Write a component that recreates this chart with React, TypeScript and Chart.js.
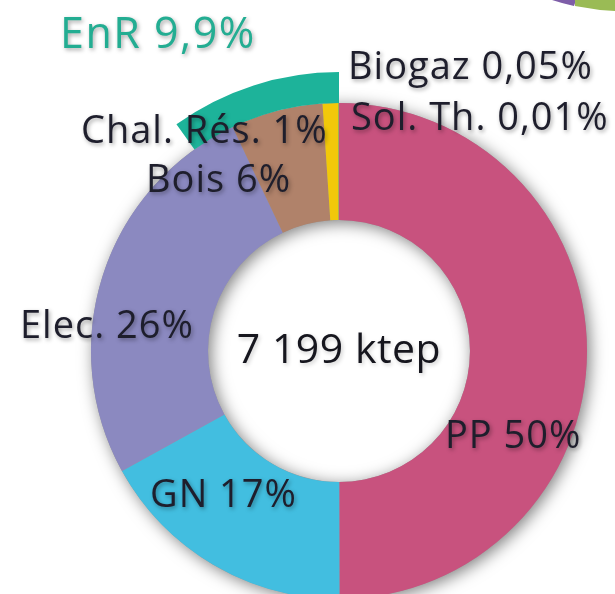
import React, { useEffect, useRef } from "react";
import { Chart, registerables } from "chart.js";

Chart.register(...registerables);

// ---- data ----
const categories = ["PP", "GN", "Elec.", "Bois", "Chal. Rés.", "Biogaz", "Sol. Th."];
const shares = [50, 17, 26, 6, 1, 0.05, 0.01];
const colors = ["#C8527E", "#42BEE0", "#8B89C0", "#B0826A", "#F2C80A", "#8DBE4A", "#E8902A"];
const enrLabel = "EnR";
const enrShare = 9.9;
const totalLabel = "7 199 ktep";

// label anchor points (left x, baseline y) — layout only
const labelAnchors = [
  [445, 448],
  [150, 507],
  [20, 338],
  [146, 192],
  [81, 143],
  [348, 79],
  [351, 130],
];
const enrAnchor = [60, 48];

const fmt = (v: number) => String(v).replace(".", ",") + "%";

export default function App() {
  const ref = useRef<HTMLCanvasElement | null>(null);
  useEffect(() => {
    const canvas = ref.current!;
    const ringShadow = {
      id: "ringShadow",
      beforeDatasetDraw(chart: any, args: any) {
        if (args.index !== 1) return;
        const meta = chart.getDatasetMeta(1);
        const a = meta.data[0];
        if (!a) return;
        const ctx = chart.ctx;
        ctx.save();
        ctx.shadowColor = "rgba(0,0,0,0.5)";
        ctx.shadowBlur = 16;
        ctx.shadowOffsetX = 3;
        ctx.shadowOffsetY = 3;
        ctx.fillStyle = "#999";
        ctx.beginPath();
        ctx.arc(a.x, a.y, a.outerRadius, 0, Math.PI * 2);
        ctx.arc(a.x, a.y, a.innerRadius, Math.PI * 2, 0, true);
        ctx.closePath();
        ctx.fill();
        ctx.restore();
      },
    };
    const labels = {
      id: "labelsPlugin",
      afterDraw(chart: any) {
        const ctx = chart.ctx;
        ctx.save();
        // decoration top right
        ctx.fillStyle = "#7E5EA8";
        ctx.beginPath();
        ctx.moveTo(552, 0); ctx.lineTo(576, 0); ctx.lineTo(574, 6); ctx.lineTo(562, 3); ctx.closePath();
        ctx.fill();
        ctx.fillStyle = "#9ABB55";
        ctx.beginPath();
        ctx.moveTo(575, 0); ctx.lineTo(615, 0); ctx.lineTo(615, 11); ctx.lineTo(600, 10); ctx.lineTo(575, 6); ctx.closePath();
        ctx.fill();

        ctx.shadowColor = "rgba(0,0,0,0.35)";
        ctx.shadowBlur = 4;
        ctx.shadowOffsetX = 1.5;
        ctx.shadowOffsetY = 2;
        ctx.textBaseline = "alphabetic";
        ctx.textAlign = "left";
        (ctx as any).letterSpacing = "1px";
        ctx.font = "38px 'Open Sans'";
        ctx.fillStyle = "#1E1E2C";
        categories.forEach((c, i) => {
          const [x, y] = labelAnchors[i];
          ctx.fillText(c + " " + fmt(shares[i]), x, y);
        });
        (ctx as any).letterSpacing = "1.5px";
        ctx.font = "43px 'Open Sans'";
        ctx.fillStyle = "#23AD92";
        ctx.fillText(enrLabel + " " + fmt(enrShare), enrAnchor[0], enrAnchor[1]);
        const meta = chart.getDatasetMeta(1);
        const a = meta.data[0];
        (ctx as any).letterSpacing = "0.5px";
        ctx.shadowColor = "rgba(0,0,0,0.2)";
        ctx.font = "41px 'Open Sans'";
        ctx.fillStyle = "#16161E";
        ctx.textAlign = "center";
        ctx.fillText(totalLabel, a.x, 363);
        ctx.restore();
      },
    };
    const chart = new Chart(canvas, {
      type: "doughnut",
      data: {
        labels: categories,
        datasets: [
          {
            data: [100 - enrShare, enrShare],
            backgroundColor: ["rgba(0,0,0,0)", "#1DB39A"],
            borderWidth: 0,
            weight: 31,
            clip: false,
          } as any,
          {
            data: shares,
            backgroundColor: colors,
            borderWidth: 0,
            weight: 117,
            clip: false,
          } as any,
        ],
      },
      options: {
        animation: false,
        responsive: false,
        radius: 279,
        cutout: "46.95%",
        layout: { padding: { left: 63, right: 0, top: 108, bottom: 0 } },
        plugins: { legend: { display: false }, tooltip: { enabled: false } },
      } as any,
      plugins: [ringShadow, labels],
    });
    return () => chart.destroy();
  }, []);
  return (
    <div style={{ position: "fixed", left: 0, top: 0, width: 615, height: 594, background: "#fff" }}>
      <canvas ref={ref} width={615} height={594} style={{ width: 615, height: 594 }} />
    </div>
  );
}
